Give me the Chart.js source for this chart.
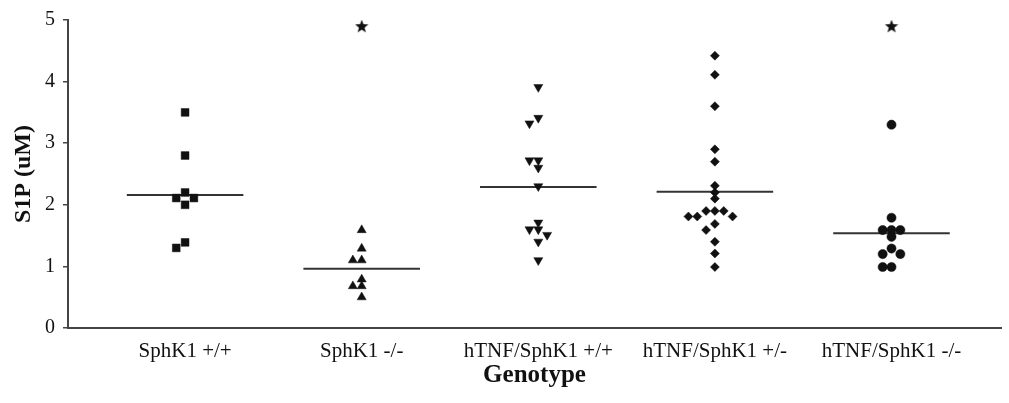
<!DOCTYPE html>
<html>
<head>
<meta charset="utf-8">
<script src="https://cdn.jsdelivr.net/npm/chart.js@4"></script>
<style>
  html, body { margin: 0; padding: 0; background: #fff; }
  #wrap { width: 1009px; height: 403px; }
</style>
</head>
<body>
<div id="wrap"><canvas id="myChart"></canvas></div>
<script>
// Data (S1P in uM per genotype)
const genotypes = ["SphK1 +/+", "SphK1 -/-", "hTNF/SphK1 +/+", "hTNF/SphK1 +/-", "hTNF/SphK1 -/-"];
const sphk1WT = [3.5, 2.8, 2.2, 2.11, 2.11, 2.0, 1.39, 1.3];
const sphk1KO = [1.59, 1.29, 1.1, 1.1, 0.79, 0.68, 0.68, 0.5];
const tnfWT = [3.91, 3.41, 3.32, 2.72, 2.72, 2.6, 2.3, 1.71, 1.6, 1.6, 1.51, 1.4, 1.1];
const tnfHet = [4.42, 4.11, 3.6, 2.9, 2.7, 2.31, 2.2, 2.1, 1.9, 1.9, 1.9, 1.81, 1.81, 1.81, 1.69, 1.59, 1.4, 1.21, 0.99];
const tnfKO = [3.3, 1.79, 1.59, 1.59, 1.59, 1.48, 1.29, 1.2, 1.2, 0.99, 0.99];
const medians = [2.16, 0.96, 2.29, 2.21, 1.54];
const stars = [null, 4.9, null, null, 4.9];
const yTicks = [0, 1, 2, 3, 4, 5];

const groups = [sphk1WT, sphk1KO, tnfWT, tnfHet, tnfKO];
const markers = ["rect", "triangle", "triangle", "rectRot", "circle"];
const markerSize = [5.5, 5.2, 5.2, 4.5, 4.6];
const markerRot = [0, 0, 180, 0, 0];
const serif = "'Liberation Serif', 'DejaVu Serif', 'Times New Roman', serif";
const ink = "#111";

// column scatter: points that would overlap are pushed sideways
function spread(values, center) {
  const placed = [];
  const order = [0, -1, 1, -2, 2, -3, 3, -4, 4, -5, 5];
  return values.slice().sort((a, b) => b - a).map((v) => {
    const slot = order.find((s) => !placed.some((p) => p.slot === s && Math.abs(p.v - v) < 0.1));
    placed.push({ slot: slot, v: v });
    return { x: center + slot * 0.05, y: v };
  });
}

// filled five point star for the significance marks
function starImage(size) {
  const c = document.createElement("canvas");
  c.width = size;
  c.height = size;
  const g = c.getContext("2d");
  const r = size / 2, ri = r * 0.42;
  g.beginPath();
  for (let i = 0; i < 10; i++) {
    const a = -Math.PI / 2 + (i * Math.PI) / 5;
    const rr = i % 2 === 0 ? r : ri;
    g.lineTo(r + rr * Math.cos(a), r + 0.5 + rr * Math.sin(a));
  }
  g.closePath();
  g.fillStyle = ink;
  g.fill();
  return c;
}

const datasets = [];
groups.forEach((vals, i) => {
  datasets.push({
    type: "scatter",
    data: spread(vals, i + 1),
    pointStyle: markers[i],
    pointRadius: markerSize[i],
    rotation: markerRot[i],
    backgroundColor: ink,
    borderColor: ink,
    borderWidth: 0.5,
  });
  datasets.push({
    type: "line",
    data: [
      { x: i + 1 - 0.33, y: medians[i] },
      { x: i + 1 + 0.33, y: medians[i] },
    ],
    borderColor: "#333",
    borderWidth: 2,
    pointRadius: 0,
  });
});

const starPts = [];
stars.forEach((v, i) => {
  if (v !== null) starPts.push({ x: i + 1, y: v });
});
datasets.push({
  type: "scatter",
  data: starPts,
  pointStyle: starImage(14),
  pointRadius: 7,
});

const myChart = new Chart(document.getElementById("myChart"), {
  type: "scatter",
  data: { datasets: datasets },
  options: {
    responsive: true,
    maintainAspectRatio: false,
    animation: false,
    layout: { padding: { top: 19, right: 1, left: 0, bottom: 0 } },
    plugins: {
      legend: { display: false },
      tooltip: { enabled: false },
    },
    scales: {
      x: {
        type: "linear",
        min: 0.337,
        max: 5.62,
        afterBuildTicks: (scale) => {
          scale.ticks = genotypes.map((g, i) => ({ value: i + 1 }));
        },
        afterFit: (scale) => {
          scale.height = 75;
        },
        grid: { display: false, drawTicks: false },
        border: { display: true, color: "#444", width: 2 },
        ticks: {
          autoSkip: false,
          maxRotation: 0,
          padding: 11,
          color: ink,
          font: { family: serif, size: 21 },
          callback: (v) => genotypes[v - 1],
        },
        title: {
          display: true,
          text: "Genotype",
          color: ink,
          padding: { top: 12, bottom: 12 },
          font: { family: serif, size: 25, weight: "bold" },
        },
      },
      y: {
        min: 0,
        max: 5,
        afterBuildTicks: (scale) => {
          scale.ticks = yTicks.map((v) => ({ value: v }));
        },
        afterFit: (scale) => {
          scale.width = 68;
        },
        grid: {
          drawOnChartArea: false,
          drawTicks: true,
          tickLength: 5,
          color: "#444",
          lineWidth: 1.5,
        },
        border: { display: true, color: "#444", width: 2 },
        ticks: {
          padding: 8,
          color: ink,
          font: { family: serif, size: 20 },
        },
        title: {
          display: true,
          text: "S1P (uM)",
          color: ink,
          padding: { top: 9, bottom: 9 },
          font: { family: serif, size: 24, weight: "bold" },
        },
      },
    },
  },
});
</script>
</body>
</html>
